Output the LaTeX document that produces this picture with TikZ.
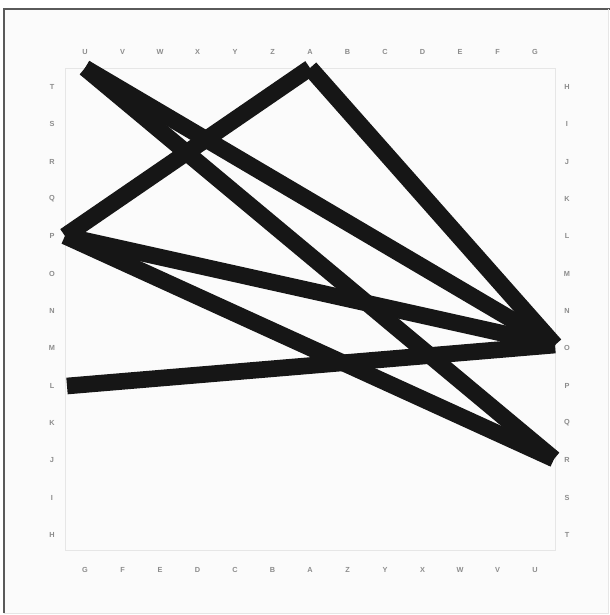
\documentclass[tikz,border=0pt]{standalone}
\usepackage{fontspec}
\setsansfont{Liberation Sans}
\definecolor{ink}{HTML}{161616}
\definecolor{lbl}{HTML}{8C8C8C}
\definecolor{frame}{HTML}{5A5A5A}
\definecolor{inner}{HTML}{E6E6E6}
\definecolor{bgc}{HTML}{FBFBFB}
\tikzset{
  lab/.style={font=\sffamily\bfseries\fontsize{5.5}{6}\selectfont, text=lbl, inner sep=0pt},
  bar/.style={draw=ink, line width=12.5pt, line cap=butt, line join=miter},
}
\begin{document}
\begin{tikzpicture}[x=0.75pt,y=-0.75pt]
\useasboundingbox (0,0) rectangle (610,615);
\fill[white] (0,0) rectangle (610,615);
\fill[bgc] (4,9) rectangle (608,613);
\draw[frame, line width=2pt] (4,613) -- (4,9) -- (610,9);
\draw[inner, line width=0.6pt] (608,9) -- (608,613) -- (4,613);
\draw[inner, line width=0.7pt] (65,68) rectangle (555,550);
% labels
\foreach \t [count=\i from 0] in {U,V,W,X,Y,Z,A,B,C,D,E,F,G}
  \node[lab] (top\i) at (85+37.5*\i,52) {\t};
\foreach \t [count=\i from 0] in {G,F,E,D,C,B,A,Z,Y,X,W,V,U}
  \node[lab] (bot\i) at (85+37.5*\i,570) {\t};
\foreach \t [count=\i from 0] in {T,S,R,Q,P,O,N,M,L,K,J,I,H}
  \node[lab] (lft\i) at (52,87+37.33*\i) {\t};
\foreach \t [count=\i from 0] in {H,I,J,K,L,M,N,O,P,Q,R,S,T}
  \node[lab] (rgt\i) at (567,87+37.33*\i) {\t};
% end points
\coordinate (uT) at (85,68);
\coordinate (aT) at (310,68);
\coordinate (pL) at (65,236);
\coordinate (lL) at (67,386);
\coordinate (oR) at (555,345);
\coordinate (rR) at (554,459);
% strokes
\draw[bar] (uT) -- (oR);
\draw[bar] (uT) -- (rR);
\draw[bar] (aT) -- (pL);
\draw[bar] (aT) -- (oR);
\draw[bar] (pL) -- (oR);
\draw[bar] (pL) -- (rR);
\draw[bar] (lL) -- (oR);
\end{tikzpicture}
\end{document}
